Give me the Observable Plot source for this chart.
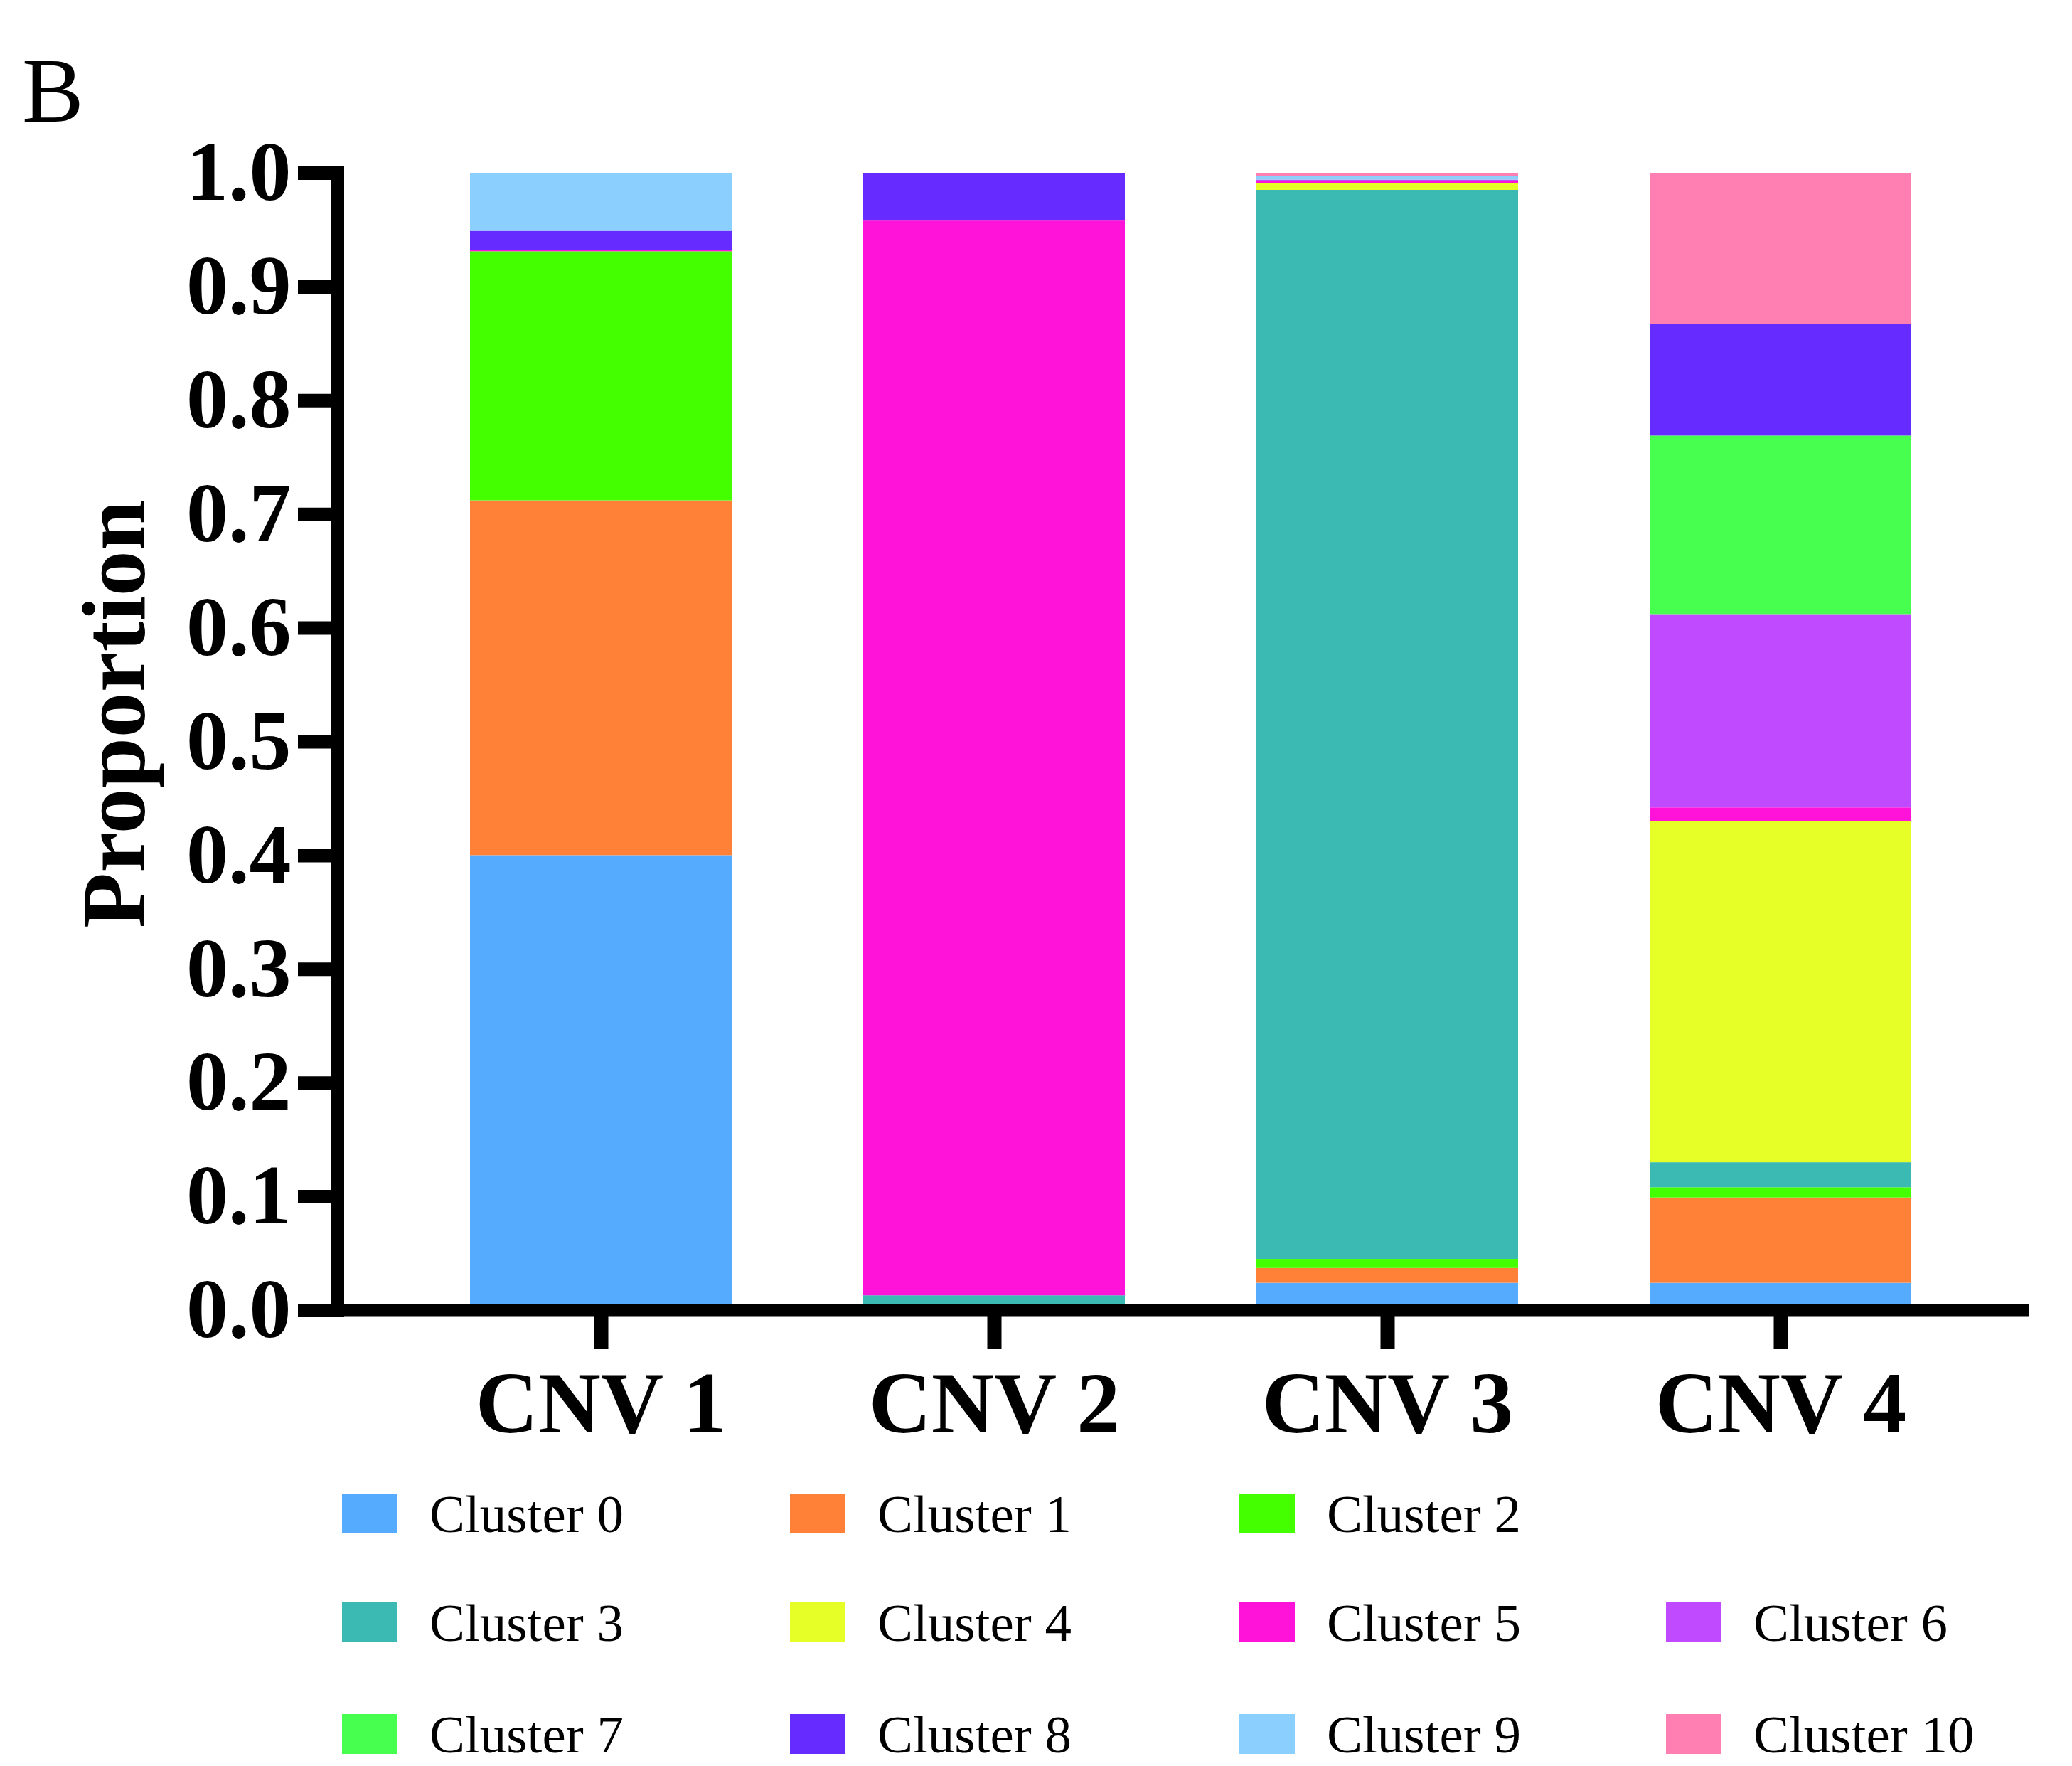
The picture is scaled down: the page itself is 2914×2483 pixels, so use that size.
<!DOCTYPE html>
<html>
<head>
<meta charset="utf-8">
<script src="https://cdn.jsdelivr.net/npm/d3@7"></script>
<script src="https://cdn.jsdelivr.net/npm/@observablehq/plot@0.6"></script>
<style>
  body { margin: 0; background: #fff; }
  #fig { position: relative; width: 2914px; height: 2483px; background: #fff;
         font-family: "Liberation Serif", "Times New Roman", serif; color: #000; }
  #panel { position: absolute; left: 31px; top: 62px; font-size: 130px; line-height: 1; }
  #fig svg { position: absolute; left: 0; top: 0; }
  .item { position: absolute; display: flex; align-items: center; height: 80px;
          font-size: 75px; line-height: 1; white-space: nowrap; }
  .sw { width: 78px; height: 56px; margin-right: 45px; flex: none; }
</style>
</head>
<body>
<div id="fig"><div id="panel">B</div></div>
<script>
// Categories on the x axis
const cnvs = ["CNV 1", "CNV 2", "CNV 3", "CNV 4"];

// Stacked series (bottom to top) and their colours
const clusters = ["Cluster 0", "Cluster 1", "Cluster 2", "Cluster 3", "Cluster 4", "Cluster 5",
                  "Cluster 6", "Cluster 7", "Cluster 8", "Cluster 9", "Cluster 10"];
const clusterColors = ["#55acff", "#ff8138", "#44ff00", "#3bb9b3", "#e6ff26", "#ff13d9",
                       "#c04aff", "#47ff4f", "#652bff", "#8bcfff", "#ff7fb2"];

// Proportion of each cluster within each CNV group (cluster 0 … cluster 10)
const cnv1 = [0.400, 0.312, 0.219, 0.000, 0.000, 0.001, 0.000, 0.000, 0.017, 0.051, 0.000];
const cnv2 = [0.000, 0.000, 0.000, 0.013, 0.000, 0.945, 0.000, 0.000, 0.042, 0.000, 0.000];
const cnv3 = [0.024, 0.013, 0.008, 0.940, 0.006, 0.002, 0.001, 0.000, 0.000, 0.003, 0.003];
const cnv4 = [0.024, 0.075, 0.009, 0.022, 0.300, 0.012, 0.170, 0.157, 0.098, 0.000, 0.133];

// Axis ticks and labels
const yTicks = [0, 0.1, 0.2, 0.3, 0.4, 0.5, 0.6, 0.7, 0.8, 0.9, 1.0];
const yLabel = "Proportion";

// Legend arrangement: rows of cluster indices
const legendRows = [[0, 1, 2], [3, 4, 5, 6], [7, 8, 9, 10]];

// Long-format table for the stacked bars
const groups = [cnv1, cnv2, cnv3, cnv4];
const rows = [];
groups.forEach((vals, g) => {
  vals.forEach((v, c) => {
    if (v > 0) rows.push({cnv: cnvs[g], cluster: clusters[c], value: v});
  });
});

const serif = '"Liberation Serif", "Times New Roman", serif';

const chart = Plot.plot({
  width: 2914,
  height: 2050,
  marginTop: 243,
  marginBottom: 208,
  marginLeft: 474,
  marginRight: 40,
  style: {fontFamily: serif, fontSize: "120px", fontWeight: "bold", background: "transparent", overflow: "visible", color: "#000"},
  x: {domain: cnvs, padding: 0.335},
  y: {domain: [0, 1]},
  color: {domain: clusters, range: clusterColors},
  marks: [
    Plot.barY(rows, {x: "cnv", y: "value", fill: "cluster"}),
    Plot.ruleY([0], {stroke: "#000", strokeWidth: 18, insetLeft: -54, insetRight: 21}),
    Plot.frame({anchor: "left", stroke: "#000", strokeWidth: 19, strokeLinecap: "square"}),
    Plot.axisY({ticks: yTicks, tickFormat: d3.format(".1f"), tickSize: 55, tickPadding: 10,
                strokeWidth: 19, fontSize: 118, fontWeight: "bold", label: null}),
    Plot.axisX({tickSize: 54, tickPadding: 31, strokeWidth: 20, fontSize: 122, fontWeight: "bold", label: null}),
    Plot.text([yLabel], {text: d => d, frameAnchor: "left", textAnchor: "middle", lineAnchor: "middle",
                         rotate: -90, dx: -312, dy: -39,
                         fontSize: 128, fontWeight: "bold", fill: "#000"})
  ]
});

const fig = document.getElementById("fig");
fig.appendChild(chart);

// Legend below the plot
const colLefts = [481, 1111, 1743, 2343];
const rowCenters = [2128, 2281, 2438];
legendRows.forEach((row, r) => {
  row.forEach((ci, c) => {
    const item = document.createElement("div");
    item.className = "item";
    item.style.left = colLefts[c] + "px";
    item.style.top = (rowCenters[r] - 40) + "px";
    const sw = document.createElement("span");
    sw.className = "sw";
    sw.style.background = clusterColors[ci];
    const label = document.createElement("span");
    label.textContent = clusters[ci];
    item.appendChild(sw);
    item.appendChild(label);
    fig.appendChild(item);
  });
});
</script>
</body>
</html>
